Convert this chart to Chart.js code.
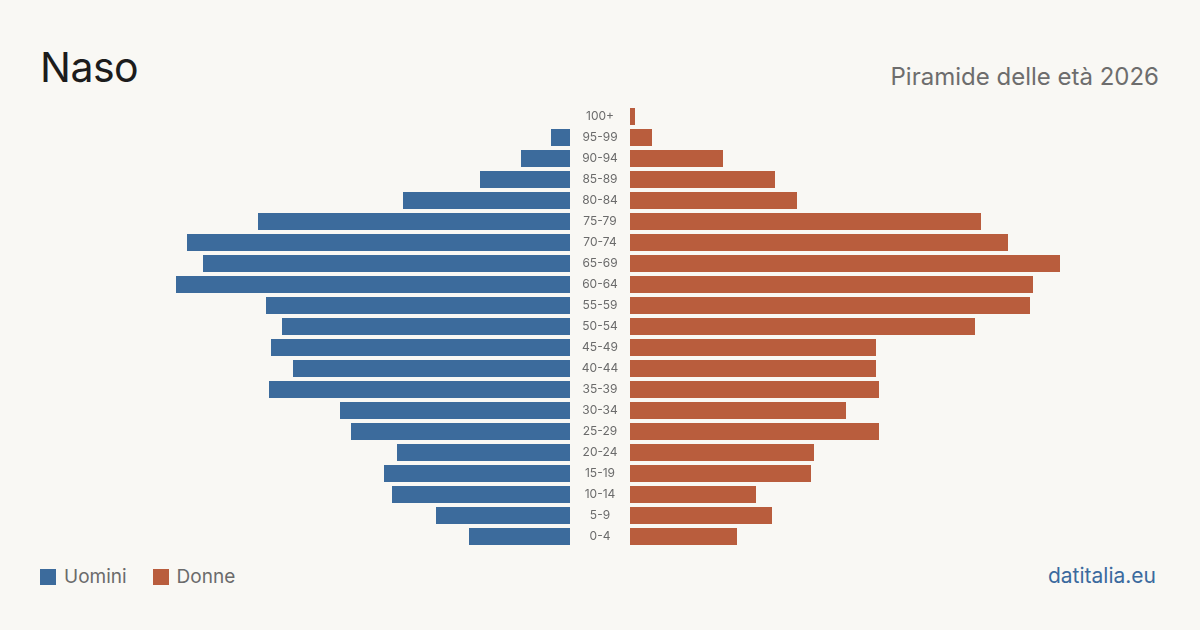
<!DOCTYPE html>
<html><head><meta charset="utf-8">
<script src="https://cdn.jsdelivr.net/npm/chart.js@4/dist/chart.umd.min.js"></script>
<style>
html,body{margin:0;padding:0;background:#f9f8f4;width:1200px;height:630px;overflow:hidden;font-family:Inter,"Noto Sans",sans-serif;}
.abs{position:absolute;white-space:nowrap;}
#title{left:40px;top:47px;font-size:41px;line-height:41px;color:#1c1c1c;letter-spacing:-0.5px;}
#sub{right:41px;top:65px;font-size:24px;line-height:24px;color:#6d6d6d;}
#legend{left:40px;top:567px;font-size:19px;line-height:19px;color:#6b6b6b;display:flex;align-items:center;}
#legend .sw{width:16px;height:16px;display:inline-block;margin-right:8px;}
#legend .it{display:flex;align-items:center;margin-right:26px;}
#brand{right:44px;top:565px;font-size:21px;line-height:21px;color:#3b6a9e;}
#wl{position:absolute;left:40px;top:106px;width:590px;height:441px;}
#wr{position:absolute;left:630px;top:106px;width:530px;height:441px;}
</style></head>
<body>
<div id="title" class="abs">Naso</div>
<div id="sub" class="abs">Piramide delle età 2026</div>
<div id="wl"><canvas id="cl"></canvas></div>
<div id="wr"><canvas id="cr"></canvas></div>
<div id="legend" class="abs">
  <span class="it"><span class="sw" style="background:#3c6b9c"></span>Uomini</span>
  <span class="it"><span class="sw" style="background:#b95d3d"></span>Donne</span>
</div>
<div id="brand" class="abs">datitalia.eu</div>
<script>
const ageGroups = ['100+','95-99','90-94','85-89','80-84','75-79','70-74','65-69','60-64','55-59','50-54','45-49','40-44','35-39','30-34','25-29','20-24','15-19','10-14','5-9','0-4'];
const men   = [0,19,49,90,167,312,383,367,394,304,288,299,277,301,230,219,173,186,178,134,101];
const women = [5,22,93,145,167,351,378,430,403,400,345,246,246,249,216,249,184,181,126,142,107];
const axisMax = 530;
const menColor = '#3c6b9c';
const womenColor = '#b95d3d';

const tickFont = {family:'Inter', size:12};
const mc = document.createElement('canvas').getContext('2d');
mc.font = '12px Inter';
let widest = 0;
ageGroups.forEach(l => { widest = Math.max(widest, mc.measureText(l).width); });
const labelPad = (60 - widest) / 2;

const common = {
  responsive:true, maintainAspectRatio:false, animation:false,
  indexAxis:'y',
  layout:{padding:0},
  plugins:{legend:{display:false}, tooltip:{enabled:false}}
};

new Chart(document.getElementById('cl'), {
  type:'bar',
  data:{labels:ageGroups, datasets:[{label:'Uomini', data:men, backgroundColor:menColor, barPercentage:17/21, categoryPercentage:1}]},
  options:Object.assign({}, common, {
    scales:{
      x:{display:false, reverse:true, min:0, max:axisMax},
      y:{position:'right', grid:{display:false, drawTicks:false}, border:{display:false},
         ticks:{font:tickFont, color:'#6b6b6b', crossAlign:'center', padding:labelPad},
         afterFit:(s)=>{s.width=60; s.paddingTop=0; s.paddingBottom=0;}}
    }
  })
});

new Chart(document.getElementById('cr'), {
  type:'bar',
  data:{labels:ageGroups, datasets:[{label:'Donne', data:women, backgroundColor:womenColor, barPercentage:17/21, categoryPercentage:1}]},
  options:Object.assign({}, common, {
    scales:{
      x:{display:false, min:0, max:axisMax},
      y:{display:false}
    }
  })
});
</script>
</body></html>
